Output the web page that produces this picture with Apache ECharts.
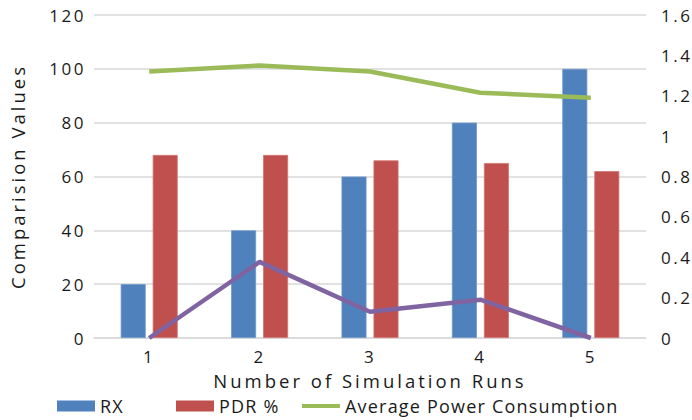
<!DOCTYPE html>
<html>
<head>
<meta charset="utf-8">
<script src="https://cdn.jsdelivr.net/npm/echarts@6/dist/echarts.min.js"></script>
<style>
  html, body { margin: 0; padding: 0; background: #fff; }
  #chart { width: 692px; height: 420px; }
  /* Loose tracking for the chart typography, set per text size */
  #chart svg text[style*="17px"] { letter-spacing: 2.5px; }
  #chart svg text[style*="18px"] { letter-spacing: 1.2px; }
  #chart svg text[style*="18.5px"] { letter-spacing: 3px; }
</style>
</head>
<body>
<div id="chart"></div>
<script>
// Simulation runs on the category axis
const runs = ['1', '2', '3', '4', '5'];

// Bar series (left axis)
const rxValues = [20, 40, 60, 80, 100];
const pdrValues = [68, 68, 66, 65, 62];

// Line series (right axis)
const powerValues = [1.32, 1.35, 1.32, 1.215, 1.19];
const lossValues = [0, 0.377, 0.13, 0.19, 0];

const FONT = '"Open Sans", sans-serif';
const TEXT = '#1a1a1a';

const chart = echarts.init(document.getElementById('chart'), null, { renderer: 'svg' });

const legendText = { fontFamily: FONT, fontSize: 18, color: TEXT };
const legendBase = { top: 397, padding: 0, itemWidth: 38, itemHeight: 11, textStyle: legendText, icon: 'rect', itemStyle: { borderWidth: 0 } };

chart.setOption({
  animation: false,
  backgroundColor: '#fff',
  grid: { left: 92, right: 46, top: 15, bottom: 82 },
  legend: [
    Object.assign({}, legendBase, { data: ['RX'], left: 57 }),
    Object.assign({}, legendBase, { data: ['PDR %'], left: 176 }),
    Object.assign({}, legendBase, { data: ['Average Power Consumption'], left: 302, itemHeight: 4 })
  ],
  xAxis: {
    type: 'category',
    data: runs,
    name: 'Number of Simulation Runs',
    nameLocation: 'middle',
    nameGap: 33,
    nameTextStyle: { fontFamily: FONT, fontSize: 18.5, color: TEXT },
    axisLine: { lineStyle: { color: '#d9d9d9', width: 1.5 } },
    axisTick: { show: false },
    axisLabel: { fontFamily: FONT, fontSize: 17, color: TEXT, margin: 10 }
  },
  yAxis: [
    {
      type: 'value',
      min: 0, max: 120, interval: 20,
      name: 'Comparision Values',
      nameLocation: 'middle',
      nameGap: 67,
      nameTextStyle: { fontFamily: FONT, fontSize: 18.5, color: TEXT },
      axisLine: { show: false },
      axisTick: { show: false },
      axisLabel: { fontFamily: FONT, fontSize: 17, color: TEXT, margin: 8 },
      splitLine: { lineStyle: { color: '#d9d9d9', width: 1.5 } }
    },
    {
      type: 'value',
      min: 0, max: 1.6, interval: 0.2,
      position: 'right',
      axisLine: { show: false },
      axisTick: { show: false },
      splitLine: { show: false },
      axisLabel: {
        fontFamily: FONT, fontSize: 17, color: TEXT, margin: 15,
        formatter: v => String(Math.round(v * 10) / 10)
      }
    }
  ],
  series: [
    {
      name: 'RX', type: 'bar', data: rxValues,
      barWidth: 25, barGap: '28%',
      itemStyle: { color: '#4F81BD', borderColor: '#6E98CB', borderWidth: 0.8 }
    },
    {
      name: 'PDR %', type: 'bar', data: pdrValues,
      barWidth: 25, barGap: '28%',
      itemStyle: { color: '#C0504D', borderColor: '#D27572', borderWidth: 0.8 }
    },
    {
      name: 'Average Power Consumption', type: 'line', yAxisIndex: 1,
      data: powerValues, symbol: 'none',
      lineStyle: { color: '#9BBB59', width: 4.5 },
      itemStyle: { color: '#9BBB59' },
      z: 5
    },
    {
      name: 'Packet Loss', type: 'line', yAxisIndex: 1,
      data: lossValues, symbol: 'none',
      lineStyle: { color: '#8064A2', width: 4.5 },
      itemStyle: { color: '#8064A2' },
      z: 5
    }
  ]
});
</script>
</body>
</html>
